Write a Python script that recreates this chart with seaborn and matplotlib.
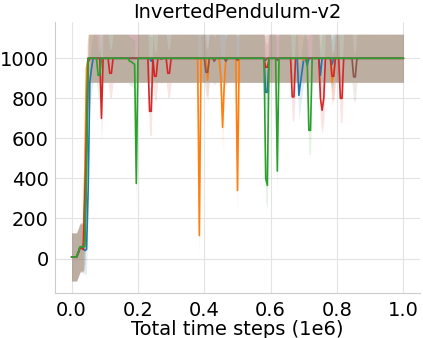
import numpy as np
import pandas as pd
import matplotlib
matplotlib.use("Agg")
import matplotlib.pyplot as plt
import seaborn as sns

# ---------------- data ----------------
title = "InvertedPendulum-v2"
xlabel = "Total time steps (1e6)"
# evaluation every 5000 steps, 0 .. 1e6 (in units of 1e6)
timesteps = np.arange(0, 1_000_001, 5000) / 1e6
xticks = [0.0, 0.2, 0.4, 0.6, 0.8, 1.0]
yticks = [0, 200, 400, 600, 800, 1000]

algos = ["Method A", "Method B", "Method C", "Method D", "Method E", "Method F"]
colors = ["#1f77b4", "#ff7f0e", "#d62728", "#9467bd", "#8c564b", "#2ca02c"]
band_sd = [120, 120, 120, 120, 120, 120]

ret_a = [
    8, 8, 8, 8, 25, 50, 55, 50, 40, 45, 350, 880, 950, 1000, 1000, 1000, 1000, 1000, 1000, 1000,
    1000, 1000, 1000, 1000, 1000, 1000, 1000, 1000, 1000, 1000, 1000, 1000, 1000, 1000, 1000, 1000, 1000, 1000, 1000, 1000,
    1000, 1000, 1000, 1000, 1000, 1000, 1000, 1000, 985, 1000, 1000, 1000, 1000, 1000, 1000, 1000, 1000, 1000, 1000, 1000,
    1000, 1000, 1000, 1000, 1000, 1000, 1000, 1000, 1000, 1000, 1000, 1000, 1000, 1000, 1000, 1000, 1000, 1000, 1000, 1000,
    1000, 1000, 1000, 1000, 1000, 1000, 1000, 1000, 1000, 1000, 1000, 1000, 1000, 1000, 1000, 1000, 1000, 1000, 1000, 1000,
    1000, 1000, 1000, 1000, 1000, 1000, 1000, 1000, 1000, 1000, 1000, 1000, 1000, 1000, 1000, 1000, 1000, 830, 830, 1000,
    1000, 1000, 1000, 1000, 1000, 1000, 1000, 1000, 1000, 1000, 1000, 1000, 1000, 1000, 1000, 1000, 1000, 815, 880, 940,
    1000, 1000, 965, 1000, 1000, 1000, 1000, 1000, 1000, 1000, 915, 1000, 1000, 1000, 1000, 1000, 1000, 970, 1000, 1000,
    1000, 1000, 1000, 1000, 1000, 1000, 1000, 1000, 1000, 1000, 1000, 1000, 1000, 1000, 1000, 1000, 1000, 1000, 1000, 1000,
    1000, 1000, 1000, 1000, 1000, 1000, 1000, 1000, 1000, 1000, 1000, 1000, 1000, 1000, 1000, 1000, 1000, 1000, 1000, 1000,
    1000,
]

ret_b = [
    8, 8, 8, 8, 30, 50, 55, 60, 450, 950, 1000, 1000, 1000, 1000, 1000, 1000, 1000, 1000, 1000, 1000,
    1000, 1000, 1000, 1000, 1000, 1000, 1000, 1000, 1000, 1000, 1000, 1000, 1000, 1000, 1000, 1000, 1000, 1000, 1000, 1000,
    1000, 1000, 1000, 1000, 1000, 1000, 1000, 1000, 1000, 1000, 1000, 1000, 1000, 1000, 1000, 1000, 1000, 1000, 1000, 1000,
    1000, 1000, 1000, 1000, 1000, 1000, 1000, 1000, 1000, 1000, 1000, 1000, 1000, 1000, 1000, 1000, 1000, 115, 1000, 1000,
    1000, 1000, 890, 1000, 1000, 1000, 1000, 1000, 1000, 1000, 900, 655, 870, 1000, 1000, 1000, 1000, 1000, 1000, 1000,
    340, 1000, 1000, 1000, 1000, 1000, 1000, 1000, 1000, 1000, 1000, 1000, 1000, 1000, 1000, 1000, 1000, 1000, 1000, 1000,
    1000, 1000, 1000, 1000, 1000, 1000, 1000, 1000, 1000, 1000, 1000, 1000, 1000, 1000, 1000, 1000, 1000, 1000, 1000, 1000,
    990, 1000, 1000, 1000, 1000, 1000, 1000, 1000, 1000, 1000, 1000, 1000, 1000, 1000, 1000, 1000, 1000, 880, 930, 1000,
    1000, 1000, 1000, 1000, 1000, 1000, 1000, 1000, 1000, 1000, 1000, 1000, 1000, 1000, 1000, 1000, 1000, 1000, 1000, 1000,
    1000, 1000, 1000, 1000, 1000, 1000, 1000, 1000, 1000, 1000, 1000, 1000, 1000, 1000, 1000, 1000, 1000, 1000, 1000, 1000,
    1000,
]

ret_c = [
    8, 8, 8, 8, 28, 50, 52, 45, 300, 560, 980, 1000, 1000, 1000, 1000, 1000, 1000, 1000, 700, 1000,
    1000, 1000, 1000, 925, 925, 1000, 1000, 1000, 1000, 1000, 1000, 1000, 1000, 1000, 1000, 1000, 1000, 1000, 1000, 1000,
    1000, 1000, 1000, 1000, 1000, 1000, 1000, 735, 735, 1000, 910, 910, 1000, 1000, 1000, 1000, 1000, 1000, 925, 925,
    1000, 1000, 1000, 1000, 1000, 1000, 1000, 1000, 1000, 1000, 1000, 1000, 1000, 1000, 1000, 1000, 1000, 1000, 1000, 1000,
    1000, 1000, 1000, 1000, 1000, 1000, 1000, 1000, 1000, 1000, 1000, 1000, 1000, 1000, 1000, 1000, 1000, 1000, 1000, 1000,
    1000, 1000, 1000, 1000, 1000, 1000, 1000, 1000, 1000, 1000, 1000, 1000, 1000, 1000, 1000, 1000, 1000, 955, 955, 1000,
    1000, 1000, 1000, 1000, 1000, 1000, 1000, 1000, 1000, 1000, 1000, 1000, 1000, 807, 807, 1000, 1000, 1000, 1000, 1000,
    1000, 1000, 1000, 1000, 1000, 1000, 1000, 1000, 1000, 1000, 800, 740, 800, 1000, 1000, 1000, 1000, 910, 910, 1000,
    1000, 1000, 800, 800, 1000, 1000, 1000, 1000, 1000, 1000, 1000, 1000, 1000, 1000, 1000, 1000, 1000, 1000, 1000, 1000,
    1000, 1000, 1000, 1000, 1000, 1000, 1000, 1000, 1000, 1000, 1000, 1000, 1000, 1000, 1000, 1000, 1000, 1000, 1000, 1000,
    1000,
]

ret_d = [
    8, 8, 8, 8, 30, 56, 58, 56, 90, 500, 1000, 1000, 1000, 1000, 1000, 1000, 1000, 1000, 1000, 1000,
    1000, 1000, 1000, 1000, 1000, 1000, 1000, 1000, 1000, 1000, 1000, 1000, 1000, 1000, 1000, 1000, 1000, 1000, 1000, 1000,
    1000, 1000, 1000, 1000, 1000, 1000, 1000, 1000, 1000, 1000, 1000, 1000, 1000, 1000, 1000, 1000, 1000, 1000, 1000, 1000,
    1000, 1000, 1000, 1000, 1000, 1000, 1000, 1000, 1000, 1000, 1000, 1000, 1000, 1000, 1000, 1000, 1000, 1000, 1000, 1000,
    1000, 1000, 1000, 1000, 1000, 1000, 1000, 1000, 1000, 1000, 1000, 1000, 1000, 1000, 1000, 1000, 1000, 1000, 1000, 1000,
    1000, 1000, 1000, 1000, 1000, 1000, 1000, 1000, 1000, 1000, 1000, 1000, 1000, 1000, 1000, 1000, 1000, 1000, 1000, 1000,
    1000, 1000, 1000, 1000, 1000, 1000, 1000, 1000, 1000, 1000, 1000, 1000, 1000, 1000, 1000, 1000, 1000, 1000, 1000, 1000,
    1000, 1000, 1000, 1000, 1000, 1000, 1000, 1000, 1000, 1000, 1000, 1000, 1000, 1000, 1000, 1000, 1000, 1000, 1000, 1000,
    1000, 1000, 1000, 1000, 1000, 1000, 1000, 1000, 1000, 1000, 1000, 1000, 1000, 1000, 1000, 1000, 1000, 1000, 1000, 1000,
    1000, 1000, 1000, 1000, 1000, 1000, 1000, 1000, 1000, 1000, 1000, 1000, 1000, 1000, 1000, 1000, 1000, 1000, 1000, 1000,
    1000,
]

ret_e = [
    8, 8, 8, 8, 30, 55, 58, 55, 120, 650, 1000, 1000, 1000, 1000, 1000, 1000, 1000, 1000, 1000, 1000,
    1000, 1000, 1000, 1000, 1000, 1000, 1000, 1000, 1000, 1000, 1000, 1000, 1000, 1000, 1000, 1000, 1000, 1000, 1000, 1000,
    1000, 1000, 1000, 1000, 1000, 1000, 1000, 1000, 1000, 1000, 1000, 1000, 1000, 1000, 995, 1000, 1000, 1000, 1000, 1000,
    1000, 1000, 1000, 1000, 1000, 1000, 1000, 1000, 1000, 1000, 1000, 1000, 1000, 1000, 1000, 1000, 1000, 1000, 1000, 1000,
    1000, 930, 930, 1000, 1000, 1000, 985, 1000, 1000, 1000, 1000, 1000, 1000, 985, 1000, 1000, 1000, 1000, 1000, 1000,
    990, 1000, 1000, 1000, 1000, 1000, 1000, 1000, 1000, 1000, 1000, 1000, 1000, 1000, 1000, 1000, 1000, 990, 1000, 1000,
    1000, 1000, 1000, 1000, 990, 1000, 1000, 1000, 1000, 1000, 1000, 1000, 1000, 1000, 1000, 1000, 1000, 1000, 1000, 1000,
    1000, 1000, 1000, 1000, 1000, 1000, 1000, 1000, 1000, 1000, 1000, 1000, 1000, 1000, 1000, 1000, 1000, 1000, 1000, 1000,
    1000, 1000, 1000, 1000, 1000, 1000, 1000, 1000, 1000, 1000, 907, 907, 1000, 1000, 1000, 1000, 1000, 1000, 1000, 1000,
    1000, 1000, 1000, 1000, 1000, 1000, 1000, 1000, 1000, 1000, 1000, 1000, 1000, 1000, 1000, 1000, 1000, 1000, 1000, 1000,
    1000,
]

ret_f = [
    8, 8, 8, 8, 30, 58, 60, 58, 60, 420, 1000, 1000, 1000, 1000, 1000, 1000, 915, 915, 1000, 1000,
    1000, 1000, 1000, 1000, 1000, 1000, 1000, 1000, 1000, 1000, 1000, 1000, 1000, 1000, 1000, 985, 983, 975, 970, 375,
    1000, 1000, 1000, 1000, 1000, 1000, 1000, 1000, 1000, 1000, 1000, 1000, 1000, 1000, 1000, 1000, 1000, 1000, 1000, 1000,
    1000, 1000, 1000, 1000, 1000, 1000, 1000, 1000, 1000, 1000, 1000, 1000, 1000, 1000, 1000, 1000, 1000, 1000, 1000, 1000,
    1000, 1000, 1000, 1000, 1000, 1000, 1000, 1000, 1000, 1000, 1000, 1000, 1000, 1000, 1000, 1000, 1000, 1000, 1000, 1000,
    1000, 1000, 1000, 1000, 1000, 1000, 1000, 1000, 1000, 1000, 1000, 1000, 1000, 1000, 1000, 1000, 1000, 400, 365, 1000,
    1000, 1000, 1000, 1000, 437, 1000, 1000, 1000, 1000, 1000, 1000, 1000, 1000, 1000, 1000, 1000, 1000, 1000, 1000, 1000,
    1000, 1000, 1000, 640, 640, 1000, 1000, 1000, 1000, 1000, 1000, 1000, 1000, 1000, 1000, 1000, 1000, 1000, 1000, 1000,
    1000, 1000, 1000, 1000, 1000, 1000, 1000, 1000, 1000, 1000, 1000, 1000, 1000, 1000, 1000, 1000, 1000, 1000, 1000, 1000,
    1000, 1000, 1000, 1000, 1000, 1000, 1000, 1000, 1000, 1000, 1000, 1000, 1000, 1000, 1000, 1000, 1000, 1000, 1000, 1000,
    1000,
]

returns = [ret_a, ret_b, ret_c, ret_d, ret_e, ret_f]

# ---------------- plot ----------------
sns.set_style("whitegrid", {"grid.color": ".89", "axes.edgecolor": ".8"})
plt.rcParams["font.family"] = ["DejaVu Sans"]

frames = []
for name, r in zip(algos, returns):
    frames.append(pd.DataFrame({"step": timesteps, "ret": r, "algo": name}))
df = pd.concat(frames, ignore_index=True)

fig = plt.figure(figsize=(4.23, 3.38), dpi=100)
ax = fig.add_axes([55 / 423, 1 - 293 / 338, 365 / 423, 271 / 338])

palette = dict(zip(algos, colors))
sns.lineplot(data=df, x="step", y="ret", hue="algo", hue_order=algos,
             palette=palette, errorbar=None, linewidth=1.2, legend=False, ax=ax)

for name, sd in zip(algos, band_sd):
    sub = df[df["algo"] == name]
    ax.fill_between(sub["step"], sub["ret"] - sd, sub["ret"] + sd,
                    color=palette[name], alpha=0.12, linewidth=0, zorder=1)

ax.set_xlim(-0.05, 1.05)
ax.set_ylim(-172, 1181)
ax.set_xticks(xticks)
ax.set_yticks(yticks)
ax.tick_params(labelsize=14, colors="black")
ax.tick_params(axis="x", pad=2)
ax.tick_params(axis="y", pad=1)
ax.set_xlabel(xlabel, fontsize=14, labelpad=0.5, color="black")
ax.set_ylabel("")
ax.set_title(title, fontsize=14, color="black", pad=3)
sns.despine(ax=ax)

fig.savefig("out.png", dpi=100)
